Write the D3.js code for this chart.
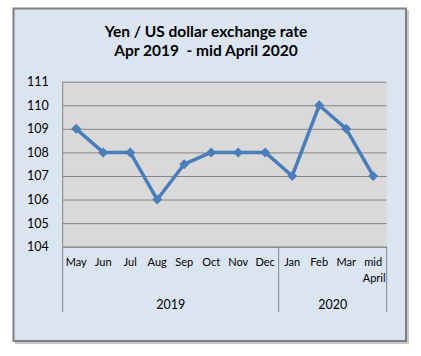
<!DOCTYPE html>
<html>
<head>
<meta charset="utf-8">
<script src="https://cdn.jsdelivr.net/npm/d3@7"></script>
<style>
  html, body { margin: 0; padding: 0; background: #ffffff; }
  svg { display: block; }
  text { font-family: Lato, "Open Sans", "Liberation Sans", sans-serif; fill: #000; }
</style>
</head>
<body>
<svg id="chart" width="421" height="356"></svg>
<script>
// ---- data ----
const titleLines = ["Yen / US dollar exchange rate", "Apr 2019  - mid April 2020"];
const months = ["May", "Jun", "Jul", "Aug", "Sep", "Oct", "Nov", "Dec", "Jan", "Feb", "Mar", "mid April"];
const rates = [109, 108, 108, 106, 107.5, 108, 108, 108, 107, 110, 109, 107];
const years = ["2019", "2020"];
const yearCounts = [8, 4];
const yTicks = [104, 105, 106, 107, 108, 109, 110, 111];

// ---- layout ----
const svg = d3.select("#chart");
const plot = { left: 62.7, right: 386.7, top: 81.7, bottom: 246.7 };

// outer box
svg.append("rect")
  .attr("x", 15).attr("y", 10).attr("width", 394).attr("height", 334)
  .attr("fill", "#c8c8c8");
svg.append("rect")
  .attr("x", 13.5).attr("y", 8.5).attr("width", 392.5).attr("height", 332.5)
  .attr("fill", "#dbe5f1").attr("stroke", "#7f7f7f").attr("stroke-width", 2);

// title
svg.append("text")
  .attr("x", 206).attr("y", 37)
  .attr("text-anchor", "middle")
  .style("font-size", "15.5px").style("font-weight", "bold")
  .text(titleLines[0]);
svg.append("text")
  .attr("x", 206).attr("y", 56)
  .attr("text-anchor", "middle")
  .style("font-size", "15.5px").style("font-weight", "bold")
  .attr("xml:space", "preserve")
  .text(titleLines[1]);

// scales
const x = d3.scaleBand().domain(months).range([plot.left, plot.right]).padding(0);
const y = d3.scaleLinear().domain([104, 111]).range([plot.bottom, plot.top]);

// plot area
svg.append("rect")
  .attr("x", plot.left).attr("y", plot.top)
  .attr("width", plot.right - plot.left).attr("height", plot.bottom - plot.top)
  .attr("fill", "#d9d9d9");

// y axis with gridlines
const yAxis = svg.append("g")
  .attr("transform", `translate(${plot.left},0)`)
  .call(d3.axisLeft(y).tickValues(yTicks).tickSize(-(plot.right - plot.left)).tickPadding(14).tickFormat(d3.format("d")));
yAxis.select(".domain").remove();
yAxis.selectAll(".tick line").attr("stroke", "#868686").attr("stroke-width", 1);
yAxis.selectAll(".tick text")
  .style("font-size", "12.5px").style("font-family", "Lato, 'Open Sans', sans-serif")
  .attr("fill", "#000");

// vertical axis line
svg.append("line")
  .attr("x1", plot.left).attr("x2", plot.left)
  .attr("y1", plot.top).attr("y2", plot.bottom)
  .attr("stroke", "#868686");

// x axis (months)
const xAxis = svg.append("g")
  .attr("transform", `translate(0,${plot.bottom})`)
  .call(d3.axisBottom(x).tickSize(0).tickPadding(0));
xAxis.select(".domain").attr("stroke", "#868686");
xAxis.selectAll(".tick text").each(function(d) {
  const t = d3.select(this);
  t.text(null).attr("y", 19).attr("dy", null)
    .style("font-size", "11px").style("font-family", "Lato, 'Open Sans', sans-serif")
    .attr("fill", "#000");
  const parts = d.split(" ");
  parts.forEach((p, i) => {
    t.append("tspan").attr("x", i === 0 ? 0 : 1).attr("dy", i === 0 ? 0 : 16).text(p);
  });
});

// year groups & dividers
let start = 0;
years.forEach((yr, i) => {
  const first = months[start];
  const last = months[start + yearCounts[i] - 1];
  const x0 = x(first), x1 = x(last) + x.bandwidth();
  svg.append("text")
    .attr("x", (x0 + x1) / 2).attr("y", 309)
    .attr("text-anchor", "middle")
    .style("font-size", "12.5px")
    .text(yr);
  start += yearCounts[i];
});
const dividerXs = [plot.left];
let acc = 0;
yearCounts.forEach(c => { acc += c; dividerXs.push(x(months[acc - 1]) + x.bandwidth()); });
svg.selectAll("line.divider").data(dividerXs).enter().append("line")
  .attr("class", "divider")
  .attr("x1", d => d).attr("x2", d => d)
  .attr("y1", plot.bottom).attr("y2", 312)
  .attr("stroke", "#868686");

// series line
const pts = months.map((m, i) => ({ m, v: rates[i] }));
svg.append("path")
  .datum(pts)
  .attr("fill", "none")
  .attr("stroke", "#4a7ebb")
  .attr("stroke-width", 3.5)
  .attr("stroke-linejoin", "round")
  .attr("d", d3.line().x(d => x(d.m) + x.bandwidth() / 2).y(d => y(d.v)));

// markers
svg.selectAll("path.marker").data(pts).enter().append("path")
  .attr("class", "marker")
  .attr("d", d3.symbol(d3.symbolSquare, 50))
  .attr("transform", d => `translate(${x(d.m) + x.bandwidth() / 2},${y(d.v)}) rotate(45)`)
  .attr("fill", "#4a7ebb");
</script>
</body>
</html>
